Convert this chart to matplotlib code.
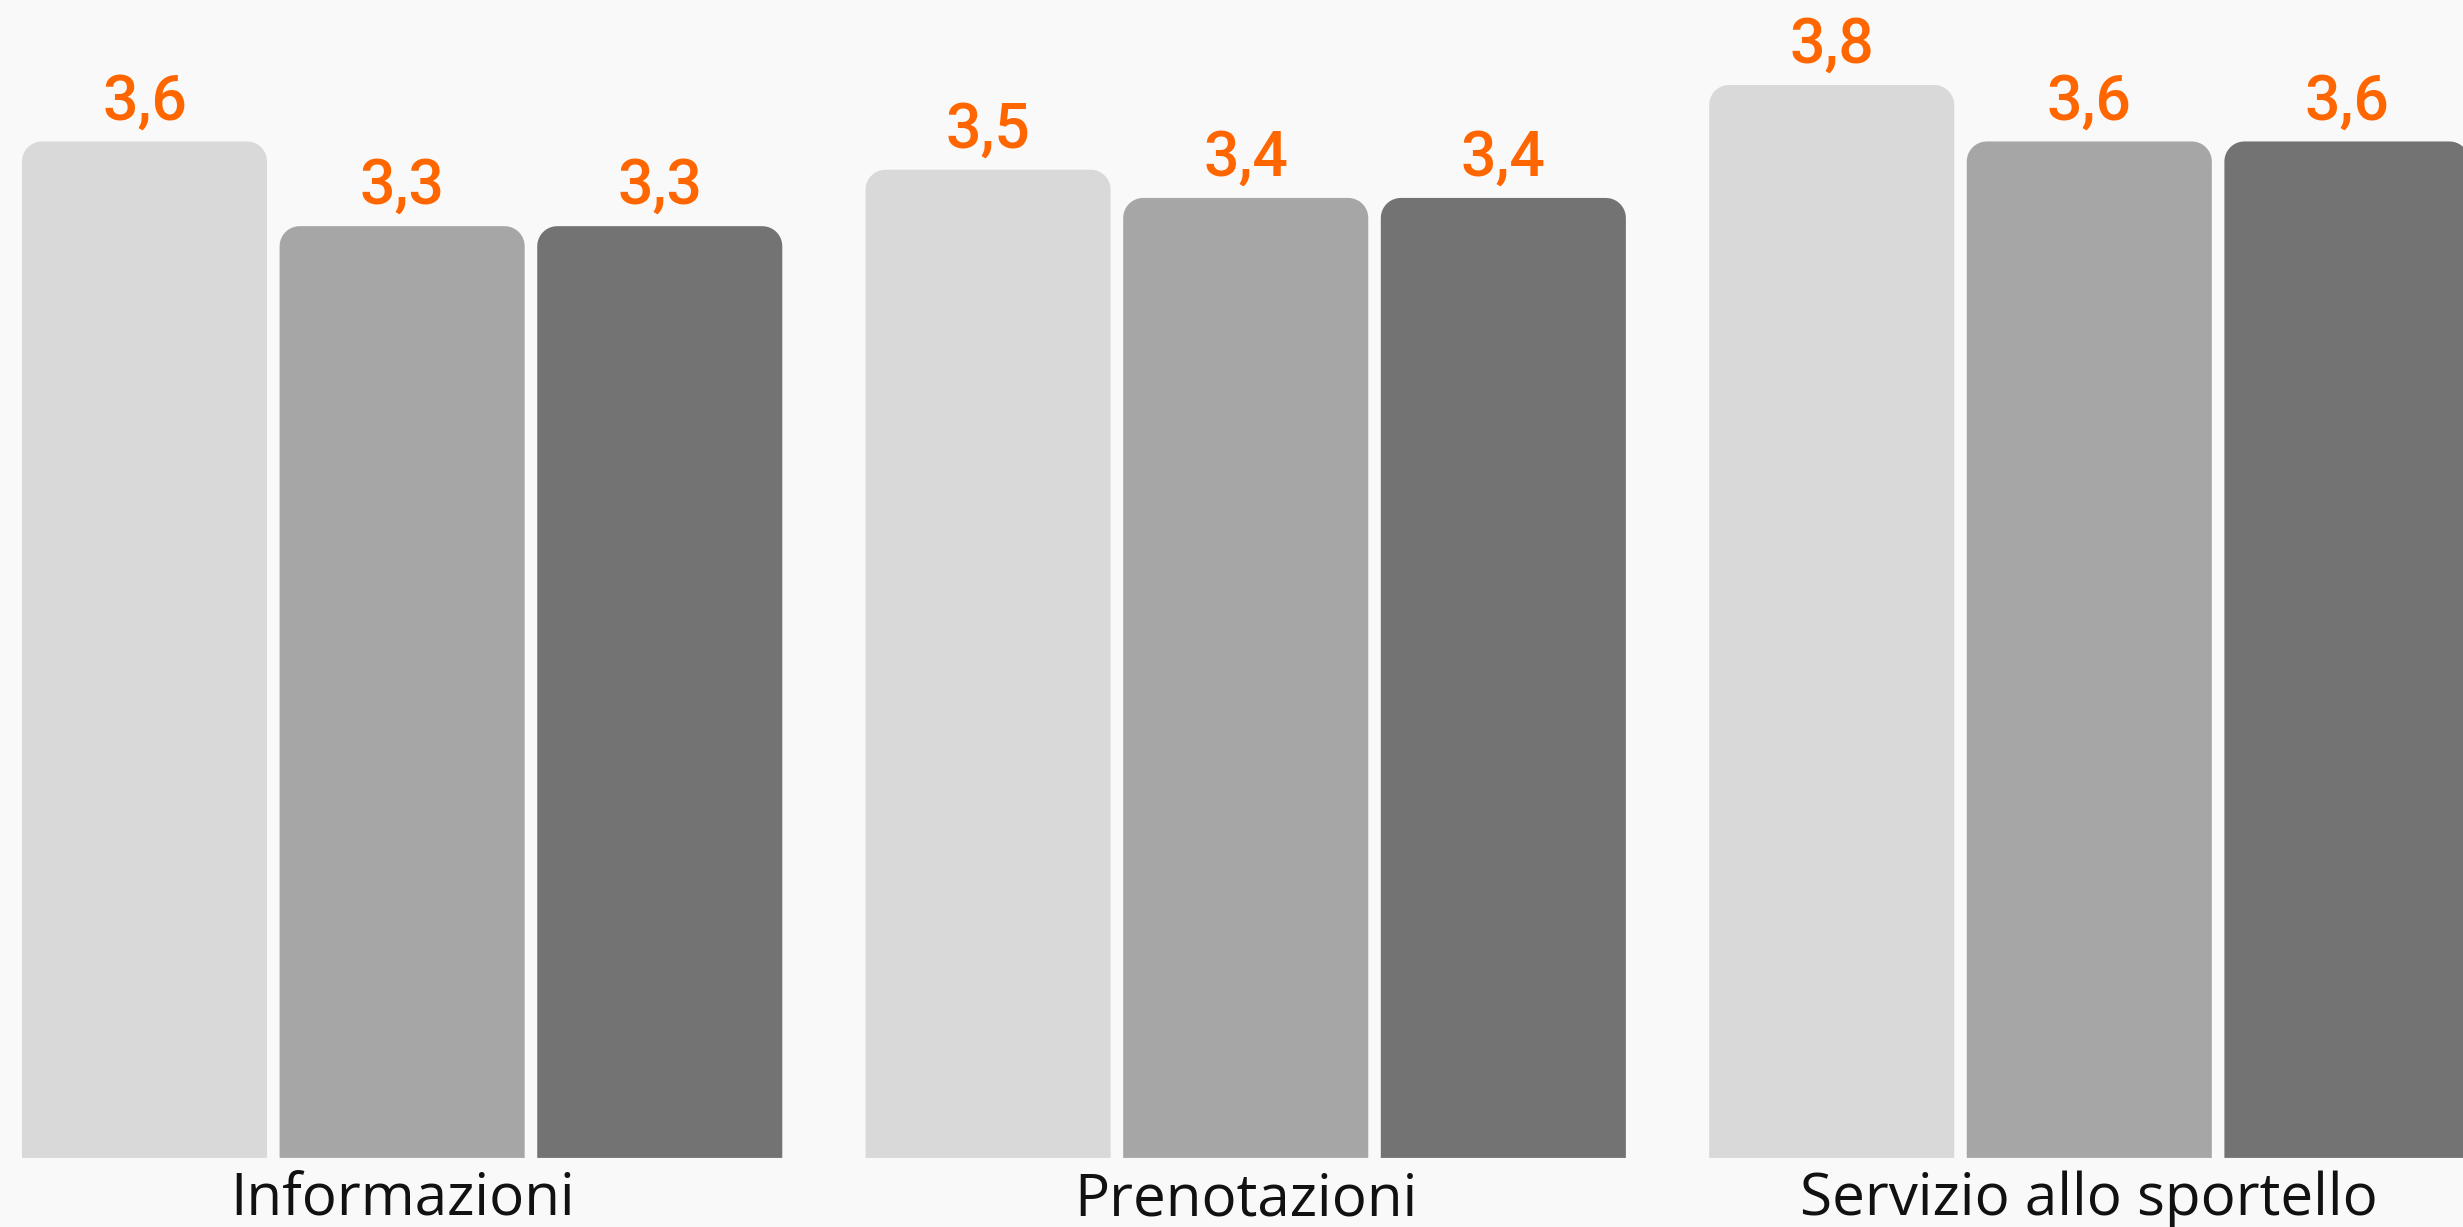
import matplotlib.pyplot as plt
import numpy as np
from matplotlib.patches import PathPatch
from matplotlib.path import Path

categories = ["Informazioni", "Prenotazioni", "Servizio allo sportello"]
serie_1 = [3.6, 3.5, 3.8]
serie_2 = [3.3, 3.4, 3.6]
serie_3 = [3.3, 3.4, 3.6]
colors = ["#d9d9d9", "#a6a6a6", "#737373"]

W, H, DPI = 2463, 1227, 100
bg = "#f9f9f9"

fig = plt.figure(figsize=(W / DPI, H / DPI), dpi=DPI, facecolor=bg)
ax = fig.add_axes([0, 0.0563, 1, 0.9437])
ax.set_facecolor(bg)

x = np.arange(len(categories))
step = 0.3054
width = 0.2905
xlim = (-0.4767, 2.443)
ylim = (0, 4.101)
ax.set_xlim(*xlim)
ax.set_ylim(*ylim)

# pixel -> data conversions for rounded corners
xpp = (xlim[1] - xlim[0]) / W
ypp = (ylim[1] - ylim[0]) / (0.9437 * H)
rx, ry = 20 * xpp, 20 * ypp


def top_rounded(x0, w, h):
    t = np.linspace(0, np.pi / 2, 12)
    # right-top corner then left-top corner
    rc = np.column_stack([x0 + w - rx + rx * np.cos(t), h - ry + ry * np.sin(t)])
    lc = np.column_stack([x0 + rx - rx * np.sin(t), h - ry + ry * np.cos(t)])
    pts = np.vstack([[x0, 0], [x0 + w, 0], rc, lc, [x0, 0]])
    return Path(pts)


for i, (vals, col) in enumerate(zip([serie_1, serie_2, serie_3], colors)):
    pos = x + (i - 1) * step
    bars = ax.bar(pos, vals, width=width, color=col)
    for b, v in zip(bars, vals):
        b.set_visible(False)
        x0, w = b.get_x(), b.get_width()
        ax.add_patch(PathPatch(top_rounded(x0, w, v), fc=col, ec="none"))
        ax.annotate(f"{v:.1f}".replace(".", ","), (x0 + w / 2, v),
                    xytext=(0, 16), textcoords="offset points",
                    ha="center", va="baseline", color="#ff6600",
                    fontsize=45, fontweight="medium",
                    family=["Roboto", "DejaVu Sans"])

for xi, c in zip(x, categories):
    ax.text(xi, -0.203, c, ha="center", va="baseline", fontsize=42,
            family=["Open Sans", "DejaVu Sans"], color="#111111",
            clip_on=False)

ax.axis("off")
fig.savefig("out.png", dpi=DPI, facecolor=bg)
